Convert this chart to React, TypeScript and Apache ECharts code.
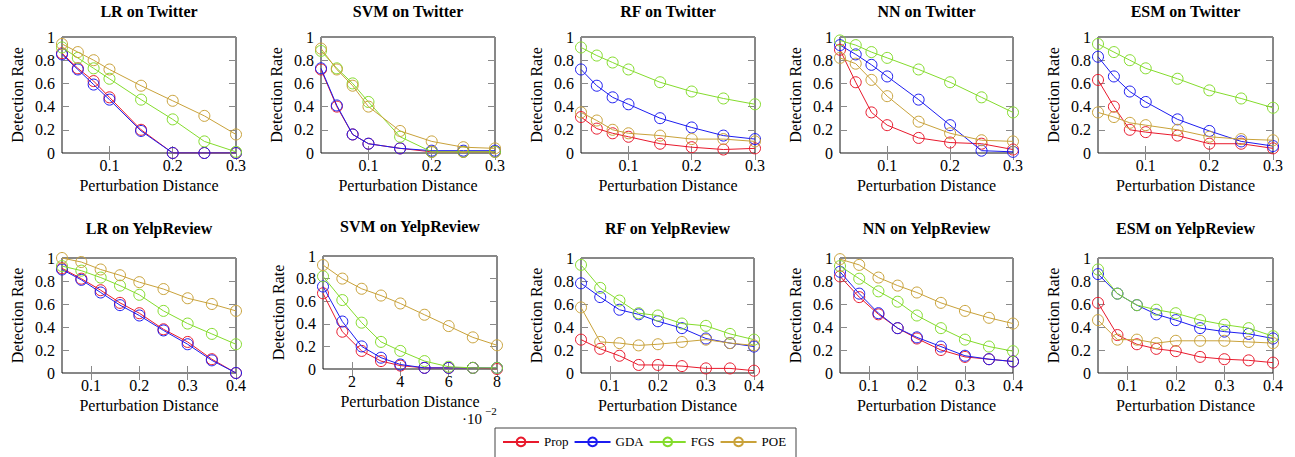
import React, { useEffect, useRef } from "react";
import * as echarts from "echarts";

// ---------- data ----------
const METHODS = ["Prop", "GDA", "FGS", "POE"];
const METHOD_COLORS = ["#e8192c", "#1c1cf0", "#84dc2c", "#c9a23a"];

const TW_X = [0.025, 0.05, 0.075, 0.1, 0.15, 0.2, 0.25, 0.3];
const YELP_X = [0.04, 0.08, 0.12, 0.16, 0.2, 0.25, 0.3, 0.35, 0.4];
const SVM_YELP_X = [0.8, 1.6, 2.4, 3.2, 4, 5, 6, 7, 8]; // ·10^-2

const TW_TICKS = [0.1, 0.2, 0.3];
const YELP_TICKS = [0.1, 0.2, 0.3, 0.4];
const SVM_YELP_TICKS = [2, 4, 6, 8];

// LR on Twitter
const LR_TW_PROP = [0.86, 0.73, 0.62, 0.48, 0.2, 0, 0, 0];
const LR_TW_GDA = [0.85, 0.72, 0.59, 0.46, 0.19, 0, 0, 0];
const LR_TW_FGS = [0.91, 0.82, 0.73, 0.64, 0.46, 0.29, 0.1, 0.01];
const LR_TW_POE = [0.94, 0.87, 0.8, 0.72, 0.58, 0.45, 0.32, 0.16];
// SVM on Twitter
const SVM_TW_PROP = [0.72, 0.4, 0.16, 0.08, 0.04, 0.01, 0.01, 0.01];
const SVM_TW_GDA = [0.73, 0.41, 0.16, 0.08, 0.04, 0.02, 0.02, 0.02];
const SVM_TW_FGS = [0.88, 0.73, 0.6, 0.44, 0.14, 0.01, 0.01, 0.01];
const SVM_TW_POE = [0.9, 0.72, 0.58, 0.4, 0.19, 0.1, 0.05, 0.04];
// RF on Twitter
const RF_TW_PROP = [0.31, 0.21, 0.17, 0.14, 0.08, 0.05, 0.03, 0.04];
const RF_TW_GDA = [0.72, 0.58, 0.48, 0.42, 0.3, 0.22, 0.15, 0.12];
const RF_TW_FGS = [0.91, 0.84, 0.78, 0.72, 0.61, 0.53, 0.47, 0.42];
const RF_TW_POE = [0.35, 0.28, 0.2, 0.17, 0.15, 0.12, 0.12, 0.1];
// NN on Twitter
const NN_TW_PROP = [0.89, 0.61, 0.35, 0.24, 0.13, 0.09, 0.08, 0.03];
const NN_TW_GDA = [0.93, 0.85, 0.76, 0.66, 0.46, 0.24, 0.02, 0.01];
const NN_TW_FGS = [0.97, 0.93, 0.87, 0.82, 0.72, 0.61, 0.48, 0.35];
const NN_TW_POE = [0.82, 0.77, 0.63, 0.49, 0.27, 0.17, 0.11, 0.1];
// ESM on Twitter
const ESM_TW_PROP = [0.63, 0.4, 0.2, 0.18, 0.15, 0.08, 0.08, 0.04];
const ESM_TW_GDA = [0.83, 0.66, 0.53, 0.44, 0.29, 0.19, 0.1, 0.06];
const ESM_TW_FGS = [0.94, 0.87, 0.8, 0.73, 0.64, 0.54, 0.47, 0.39];
const ESM_TW_POE = [0.35, 0.31, 0.26, 0.24, 0.2, 0.14, 0.12, 0.11];
// LR on YelpReview
const LR_YP_PROP = [0.91, 0.82, 0.72, 0.61, 0.52, 0.38, 0.27, 0.12, 0];
const LR_YP_GDA = [0.9, 0.81, 0.7, 0.59, 0.5, 0.37, 0.25, 0.11, 0];
const LR_YP_FGS = [0.93, 0.89, 0.83, 0.76, 0.68, 0.54, 0.43, 0.34, 0.25];
const LR_YP_POE = [1.0, 0.965, 0.9, 0.85, 0.79, 0.73, 0.65, 0.6, 0.54];
// SVM on YelpReview
const SVM_YP_PROP = [0.67, 0.33, 0.16, 0.07, 0.03, 0.01, 0.01, 0.01, 0.0];
const SVM_YP_GDA = [0.73, 0.42, 0.2, 0.1, 0.04, 0.01, 0.01, 0.01, 0.01];
const SVM_YP_FGS = [0.82, 0.61, 0.41, 0.24, 0.16, 0.07, 0.02, 0.01, 0.01];
const SVM_YP_POE = [0.92, 0.8, 0.71, 0.65, 0.58, 0.48, 0.38, 0.28, 0.21];
// RF on YelpReview
const RF_YP_PROP = [0.29, 0.21, 0.15, 0.07, 0.07, 0.06, 0.04, 0.04, 0.02];
const RF_YP_GDA = [0.78, 0.66, 0.55, 0.51, 0.45, 0.39, 0.3, 0.26, 0.23];
const RF_YP_FGS = [0.94, 0.74, 0.63, 0.52, 0.5, 0.43, 0.41, 0.34, 0.29];
const RF_YP_POE = [0.57, 0.27, 0.26, 0.24, 0.25, 0.27, 0.29, 0.26, 0.24];
// NN on YelpReview
const NN_YP_PROP = [0.84, 0.66, 0.51, 0.39, 0.3, 0.2, 0.14, 0.12, 0.1];
const NN_YP_GDA = [0.88, 0.69, 0.52, 0.39, 0.31, 0.23, 0.15, 0.12, 0.1];
const NN_YP_FGS = [0.93, 0.82, 0.71, 0.62, 0.5, 0.39, 0.29, 0.23, 0.19];
const NN_YP_POE = [0.99, 0.94, 0.83, 0.76, 0.7, 0.61, 0.54, 0.48, 0.43];
// ESM on YelpReview
const ESM_YP_PROP = [0.61, 0.33, 0.25, 0.21, 0.19, 0.14, 0.12, 0.11, 0.09];
const ESM_YP_GDA = [0.86, 0.69, 0.59, 0.51, 0.46, 0.39, 0.36, 0.34, 0.3];
const ESM_YP_FGS = [0.9, 0.69, 0.59, 0.55, 0.52, 0.46, 0.42, 0.39, 0.32];
const ESM_YP_POE = [0.46, 0.29, 0.29, 0.26, 0.28, 0.28, 0.28, 0.27, 0.26];

const PANELS = [
  { title: "LR on Twitter", xs: TW_X, ticks: TW_TICKS, ys: [LR_TW_PROP, LR_TW_GDA, LR_TW_FGS, LR_TW_POE] },
  { title: "SVM on Twitter", xs: TW_X, ticks: TW_TICKS, ys: [SVM_TW_PROP, SVM_TW_GDA, SVM_TW_FGS, SVM_TW_POE] },
  { title: "RF on Twitter", xs: TW_X, ticks: TW_TICKS, ys: [RF_TW_PROP, RF_TW_GDA, RF_TW_FGS, RF_TW_POE] },
  { title: "NN on Twitter", xs: TW_X, ticks: TW_TICKS, ys: [NN_TW_PROP, NN_TW_GDA, NN_TW_FGS, NN_TW_POE] },
  { title: "ESM on Twitter", xs: TW_X, ticks: TW_TICKS, ys: [ESM_TW_PROP, ESM_TW_GDA, ESM_TW_FGS, ESM_TW_POE] },
  { title: "LR on YelpReview", xs: YELP_X, ticks: YELP_TICKS, ys: [LR_YP_PROP, LR_YP_GDA, LR_YP_FGS, LR_YP_POE] },
  { title: "SVM on YelpReview", xs: SVM_YELP_X, ticks: SVM_YELP_TICKS, ys: [SVM_YP_PROP, SVM_YP_GDA, SVM_YP_FGS, SVM_YP_POE] },
  { title: "RF on YelpReview", xs: YELP_X, ticks: YELP_TICKS, ys: [RF_YP_PROP, RF_YP_GDA, RF_YP_FGS, RF_YP_POE] },
  { title: "NN on YelpReview", xs: YELP_X, ticks: YELP_TICKS, ys: [NN_YP_PROP, NN_YP_GDA, NN_YP_FGS, NN_YP_POE] },
  { title: "ESM on YelpReview", xs: YELP_X, ticks: YELP_TICKS, ys: [ESM_YP_PROP, ESM_YP_GDA, ESM_YP_FGS, ESM_YP_POE] },
];

// ---------- layout ----------
const GRIDS = [
  { left: 62, top: 37, width: 174, height: 116, titleTop: 3 },
  { left: 321, top: 37, width: 174, height: 116, titleTop: 3 },
  { left: 581, top: 37, width: 174, height: 116, titleTop: 3 },
  { left: 840, top: 37, width: 173, height: 116, titleTop: 3 },
  { left: 1098, top: 37, width: 175, height: 116, titleTop: 3 },
  { left: 62, top: 258, width: 174, height: 115, titleTop: 220 },
  { left: 323, top: 256, width: 174, height: 113, titleTop: 218 },
  { left: 581, top: 258, width: 173, height: 115, titleTop: 220 },
  { left: 840, top: 258, width: 173, height: 115, titleTop: 220 },
  { left: 1098, top: 258, width: 175, height: 115, titleTop: 220 },
];

const FONT = "'Liberation Serif', 'DejaVu Serif', 'Times New Roman', serif";
const TICK_COLOR = "#8a8a8a";

export default function App() {
  const ref = useRef<HTMLDivElement>(null);

  useEffect(() => {
    if (!ref.current) return;
    const chart = echarts.init(ref.current, undefined, { renderer: "svg" });

    const grid: any[] = [];
    const xAxis: any[] = [];
    const yAxis: any[] = [];
    const title: any[] = [];
    const series: any[] = [];

    PANELS.forEach((p, i) => {
      const g = GRIDS[i];
      grid.push({
        left: g.left,
        top: g.top,
        width: g.width,
        height: g.height,
        show: true,
        borderColor: "#111",
        borderWidth: 1,
        backgroundColor: "transparent",
      });
      title.push({
        text: p.title,
        left: g.left + g.width / 2,
        top: g.titleTop,
        padding: 0,
        textAlign: "center",
        textStyle: { fontFamily: FONT, fontSize: 16, fontWeight: "bold", color: "#000" },
      });
      const xmin = p.xs[0];
      const xmax = p.xs[p.xs.length - 1];
      const tickCommon = {
        show: true,
        inside: true,
        length: 7,
        lineStyle: { color: TICK_COLOR, width: 1 },
      };
      xAxis.push({
        type: "value",
        gridIndex: i,
        position: "bottom",
        min: xmin,
        max: xmax,
        axisLine: { show: false },
        splitLine: { show: false },
        axisTick: { ...tickCommon, customValues: p.ticks },
        axisLabel: {
          customValues: p.ticks,
          margin: 4,
          fontFamily: FONT,
          fontSize: 16,
          color: "#000",
        },
        name: "Perturbation Distance",
        nameLocation: "middle",
        nameGap: 24,
        nameTextStyle: { fontFamily: FONT, fontSize: 16, color: "#000" },
      });
      xAxis.push({
        type: "value",
        gridIndex: i,
        position: "top",
        min: xmin,
        max: xmax,
        axisLine: { show: false },
        splitLine: { show: false },
        axisTick: { ...tickCommon, customValues: p.ticks },
        axisLabel: { show: false },
      });
      yAxis.push({
        type: "value",
        gridIndex: i,
        position: "left",
        min: 0,
        max: 1,
        interval: 0.2,
        axisLine: { show: false },
        splitLine: { show: false },
        axisTick: { ...tickCommon },
        axisLabel: { margin: 7, fontFamily: FONT, fontSize: 16, color: "#000" },
        name: "Detection Rate",
        nameLocation: "middle",
        nameRotate: 90,
        nameGap: 37,
        nameTextStyle: { fontFamily: FONT, fontSize: 16, color: "#000" },
      });
      yAxis.push({
        type: "value",
        gridIndex: i,
        position: "right",
        min: 0,
        max: 1,
        interval: 0.2,
        axisLine: { show: false },
        splitLine: { show: false },
        axisTick: { ...tickCommon },
        axisLabel: { show: false },
      });
      p.ys.forEach((ys, k) => {
        series.push({
          type: "line",
          name: METHODS[k],
          xAxisIndex: 2 * i,
          yAxisIndex: 2 * i,
          data: p.xs.map((x, j) => [x, ys[j]]),
          symbol: "circle",
          symbolSize: 11,
          lineStyle: { color: METHOD_COLORS[k], width: 1 },
          itemStyle: { color: "none", borderColor: METHOD_COLORS[k], borderWidth: 1 },
          z: 2 + k,
        });
      });
    });

    chart.setOption({
      animation: false,
      backgroundColor: "#fff",
      textStyle: { fontFamily: FONT },
      title,
      grid,
      xAxis,
      yAxis,
      series,
      legend: {
        data: METHODS,
        left: 500,
        top: 433,
        padding: [2, 2, 2, 2],
        itemWidth: 36,
        itemHeight: 11,
        itemGap: 5,
        textStyle: { fontFamily: FONT, fontSize: 13, color: "#000", padding: [0, 0, 0, 0] },
      },
      graphic: [
        {
          type: "rect",
          shape: { x: 495, y: 428, width: 301, height: 40 },
          style: { fill: "none", stroke: "#444", lineWidth: 1 },
        },
        {
          type: "text",
          x: 462,
          y: 411,
          style: { text: "·10", fontFamily: FONT, fontSize: 15, fill: "#000" },
        },
        {
          type: "text",
          x: 485,
          y: 405,
          style: { text: "−2", fontFamily: FONT, fontSize: 11, fill: "#000" },
        },
      ],
    });

    return () => chart.dispose();
  }, []);

  return (
    <div
      ref={ref}
      style={{ position: "absolute", left: 0, top: 0, width: 1295, height: 457 }}
    />
  );
}
